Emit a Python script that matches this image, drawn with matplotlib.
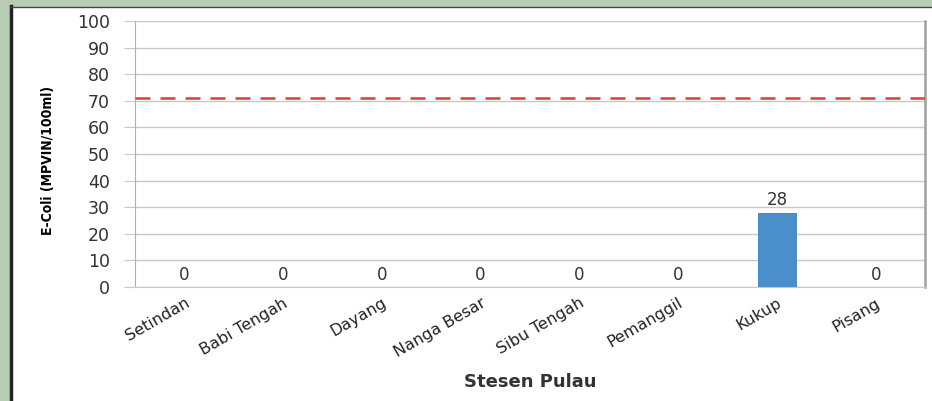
import matplotlib.pyplot as plt
from matplotlib.patches import Rectangle
from matplotlib.lines import Line2D

# E-Coli readings per island station
stations = ["Setindan", "Babi Tengah", "Dayang", "Nanga Besar",
            "Sibu Tengah", "Pemanggil", "Kukup", "Pisang"]
ecoli = [0, 0, 0, 0, 0, 0, 28, 0]
limit = 71
yticks = list(range(0, 101, 10))

fig = plt.figure(figsize=(9.32, 4.01), dpi=100)
fig.patch.set_facecolor("#b8ccb4")

# white slide panel with dark edges on top and left
fig.add_artist(Rectangle((12 / 932, 0), 1, 1 - 8 / 401, transform=fig.transFigure,
                         facecolor="white", edgecolor="none", zorder=0))
fig.add_artist(Line2D([10.5 / 932, 10.5 / 932], [0, 1 - 6 / 401], transform=fig.transFigure,
                      color="#222222", lw=2.5))
fig.add_artist(Line2D([10 / 932, 1], [1 - 6.5 / 401, 1 - 6.5 / 401], transform=fig.transFigure,
                      color="#444444", lw=1.0))

ax = fig.add_axes([135 / 932, 1 - 287 / 401, 790 / 932, 266 / 401])
ax.set_facecolor("white")

x = range(len(stations))
bars = ax.bar(x, ecoli, width=0.39, color="#4a8fcb", edgecolor="#3f7fb8",
              linewidth=0.6, zorder=3)
for xi, v in zip(x, ecoli):
    ax.text(xi, v + 1.2, str(v), ha="center", va="bottom", fontsize=12,
            color="#333333", zorder=4)

ax.axhline(limit, color="#d94040", lw=1.8, ls=(0, (6, 4)), zorder=4)

ax.set_xlim(-0.5, len(stations) - 0.5)
ax.set_ylim(0, 100)
ax.set_yticks(yticks)
ax.set_yticklabels([str(t) for t in yticks], fontsize=12.5, color="#333333")
ax.grid(axis="y", color="#c8c8c8", lw=1.0, zorder=0)
ax.tick_params(axis="y", length=8, color="#c8c8c8", pad=10)
ax.tick_params(axis="x", length=0, pad=6)

ax.set_xticks(list(x))
ax.set_xticklabels(stations, rotation=30, ha="right", rotation_mode="anchor",
                   fontsize=11.5, color="#222222")

for side in ["top"]:
    ax.spines[side].set_visible(False)
ax.spines["left"].set_color("#b0b0b0")
ax.spines["bottom"].set_color("#c8c8c8")
ax.spines["right"].set_color("#a0a0a0")
ax.spines["right"].set_linewidth(1.8)

ax.set_ylabel("E-Coli (MPVIN/100ml)", fontsize=10, fontweight="bold",
              family="DejaVu Sans", fontstretch="condensed")
ax.yaxis.set_label_coords(-80 / 790, 0.477)
ax.set_xlabel("Stesen Pulau", fontsize=13, fontweight="bold", color="#333333")
ax.xaxis.set_label_coords((530 - 135) / 790, -(373 - 287) / 266)

fig.savefig("out.png", dpi=100, facecolor=fig.get_facecolor())
